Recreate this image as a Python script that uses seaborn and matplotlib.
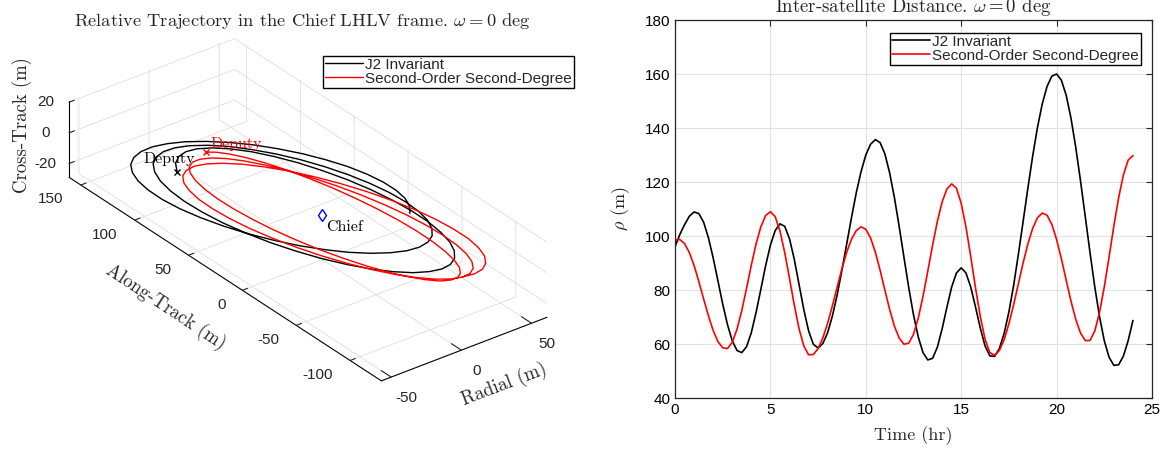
import numpy as np
import pandas as pd
import matplotlib
matplotlib.use("Agg")
import matplotlib.pyplot as plt
from matplotlib.lines import Line2D
from mpl_toolkits.mplot3d import proj3d
import seaborn as sns

# ------------------------------------------------------------------ data
series_names = ["J2 Invariant", "Second-Order Second-Degree"]
series_colors = ["black", "red"]

time_hr = np.arange(97) * 0.25  # sample times, 0 .. 24 hr

rho_j2 = [96.0, 100.5, 104.2, 107.3, 108.9, 108.3, 105.1, 99.4, 91.9, 83.4,
          74.8, 67.2, 61.2, 57.6, 56.8, 59.0, 64.2, 71.7, 80.3, 89.0,
          96.6, 102.0, 104.5, 103.6, 99.0, 91.4, 82.1, 72.8, 64.9, 59.9,
          58.5, 60.2, 64.2, 70.4, 78.2, 87.4, 97.1, 106.8, 116.0, 123.8,
          130.0, 134.0, 135.7, 134.6, 130.4, 123.4, 114.2, 103.5, 92.1, 80.9,
          70.8, 62.6, 56.8, 54.1, 54.7, 58.8, 65.6, 73.6, 81.1, 86.3,
          88.2, 86.3, 81.1, 73.7, 65.9, 59.3, 55.6, 55.4, 58.3, 63.9,
          71.9, 81.8, 93.4, 105.6, 118.0, 129.8, 140.3, 149.0, 155.4, 159.2,
          160.0, 157.7, 152.2, 143.8, 133.0, 120.6, 107.3, 93.9, 81.2, 70.1,
          61.2, 55.1, 52.1, 52.3, 55.5, 61.2, 68.7]

rho_sosd = [98.5, 98.7, 97.2, 93.9, 89.1, 83.1, 76.7, 70.5, 65.0, 60.9,
            58.6, 58.3, 60.6, 65.5, 72.4, 80.6, 89.2, 97.1, 103.4, 107.6,
            109.0, 107.2, 101.9, 93.9, 84.3, 74.5, 65.7, 59.3, 56.0, 56.1,
            58.3, 62.3, 67.7, 74.2, 81.1, 87.9, 94.0, 98.8, 102.0, 103.4,
            102.5, 99.3, 94.0, 87.3, 79.9, 72.8, 66.6, 62.2, 59.9, 60.3,
            63.6, 69.6, 77.7, 87.0, 96.6, 105.4, 112.6, 117.4, 119.3, 117.7,
            112.1, 103.3, 92.4, 80.8, 70.2, 61.8, 56.8, 55.8, 57.6, 61.6,
            67.5, 74.6, 82.4, 90.2, 97.2, 102.9, 106.8, 108.5, 107.7, 104.3,
            98.7, 91.6, 83.7, 76.0, 69.2, 64.1, 61.3, 61.3, 64.8, 71.7,
            81.2, 92.2, 103.7, 114.1, 122.6, 128.1, 129.8]

# relative trajectory, J2 invariant (radial, along-track, cross-track) [m]
j2_radial = [-36.3, -28.3, -19.3, -9.8, 0.0, 9.8, 19.3, 28.3, 36.3, 43.3,
             48.9, 53.1, 55.6, 56.5, 55.6, 53.1, 48.9, 43.3, 36.3, 28.3,
             19.3, 9.8, 0.0, -9.8, -19.3, -28.3, -36.3, -43.3, -48.9, -53.1,
             -55.6, -56.5, -55.6, -53.1, -48.9, -43.3, -36.3, -28.3, -19.3, -9.8,
             0.0, 9.8, 19.3, 28.3, 36.3, 43.3, 48.9, 53.1, 55.6, 56.5,
             55.6, 53.1, 48.9, 43.3, 36.3, 28.3, 19.3, 9.8, 0.0, -9.8,
             -19.3, -28.3, -36.3, -43.3, -48.9, -53.1, -55.6, -56.5, -55.6, -53.1,
             -48.9, -43.3, -36.3, -28.3, -19.3, -9.8, 0.0, 9.8, 19.3, 28.3,
             36.3, 43.3, 48.9, 53.1, 55.6, 56.5, 55.6, 53.1, 48.9, 43.3,
             36.3, 28.3]
j2_along = [87.6, 99.5, 108.4, 114.1, 116.4, 115.2, 110.7, 103.0, 92.2, 78.9,
            63.3, 46.1, 27.6, 8.6, -10.5, -28.9, -46.2, -61.8, -75.1, -85.8,
            -93.6, -98.1, -99.2, -96.9, -91.3, -82.4, -70.5, -56.0, -39.3, -20.8,
            -1.2, 19.0, 39.2, 58.8, 77.2, 93.9, 108.4, 120.3, 129.2, 134.9,
            137.2, 136.0, 131.5, 123.8, 113.0, 99.7, 84.1, 66.9, 48.4, 29.4,
            10.3, -8.1, -25.4, -41.0, -54.3, -65.0, -72.8, -77.3, -78.4, -76.1,
            -70.5, -61.6, -49.7, -35.2, -18.5, -0.1, 19.6, 39.8, 60.0, 79.6,
            98.0, 114.7, 129.2, 141.1, 150.0, 155.7, 158.0, 156.8, 152.3, 144.5,
            133.8, 120.5, 104.9, 87.6, 69.2, 50.2, 31.1, 12.7, -4.6, -20.2,
            -33.5, -44.3]
j2_cross = [1.1, -1.8, -4.7, -7.4, -10.0, -12.3, -14.2, -15.7, -16.7, -17.2,
            -17.2, -16.6, -15.5, -14.0, -12.0, -9.7, -7.2, -4.4, -1.6, 1.2,
            3.9, 6.4, 8.6, 10.3, 11.7, 12.5, 12.8, 12.5, 11.7, 10.3,
            8.5, 6.2, 3.6, 0.7, -2.4, -5.6, -8.7, -11.7, -14.5, -16.9,
            -18.9, -20.4, -21.4, -21.8, -21.7, -20.9, -19.5, -17.7, -15.3, -12.6,
            -9.5, -6.3, -3.0, 0.4, 3.5, 6.4, 9.0, 11.1, 12.7, 13.8,
            14.2, 13.9, 13.0, 11.4, 9.3, 6.6, 3.5, 0.1, -3.7, -7.5,
            -11.3, -15.0, -18.5, -21.6, -24.3, -26.4, -27.8, -28.6, -28.6, -28.0,
            -26.6, -24.5, -21.9, -18.7, -15.1, -11.1, -7.0, -2.9, 1.2, 5.1,
            8.6, 11.6]

# relative trajectory, second-order second-degree [m]
so_radial = [-8.8, 0.0, 8.8, 17.4, 25.5, 32.8, 39.2, 44.4, 48.3, 50.7,
             51.6, 50.9, 48.6, 44.9, 39.8, 33.5, 26.1, 17.9, 9.1, 0.0,
             -9.1, -18.0, -26.4, -34.0, -40.6, -46.0, -50.0, -52.5, -53.4, -52.7,
             -50.4, -46.5, -41.2, -34.7, -27.0, -18.5, -9.4, 0.0, 9.5, 18.7,
             27.3, 35.2, 42.0, 47.6, 51.8, 54.3, 55.3, 54.5, 52.1, 48.1,
             42.7, 35.9, 28.0, 19.2, 9.7, 0.0, -9.8, -19.3, -28.3, -36.4,
             -43.5, -49.2, -53.5, -56.2, -57.2, -56.4, -53.9, -49.8, -44.1, -37.1,
             -28.9, -19.8, -10.1, 0.0, 10.1, 19.9, 29.2, 37.6, 44.9, 50.8,
             55.3, 58.0, 59.0, 58.2, 55.6, 51.4, 45.5, 38.3, 29.8, 20.4,
             10.4, 0.0]
so_along = [97.0, 98.7, 97.3, 92.8, 85.4, 75.3, 62.8, 48.2, 32.0, 14.7,
            -3.3, -21.3, -38.9, -55.4, -70.4, -83.5, -94.1, -102.1, -107.1, -109.0,
            -107.7, -103.2, -95.7, -85.4, -72.5, -57.6, -41.0, -23.1, -4.7, 13.8,
            31.8, 48.8, 64.2, 77.5, 88.4, 96.5, 101.5, 103.3, 101.8, 97.0,
            89.0, 78.2, 64.7, 49.1, 31.7, 13.1, -6.1, -25.5, -44.3, -62.0,
            -78.1, -92.0, -103.5, -112.0, -117.3, -119.3, -117.9, -113.1, -105.0, -93.9,
            -80.2, -64.2, -46.4, -27.3, -7.6, 12.2, 31.5, 49.7, 66.1, 80.4,
            92.0, 100.6, 106.0, 107.9, 106.2, 101.1, 92.6, 81.0, 66.6, 49.9,
            31.4, 11.5, -9.0, -29.6, -49.7, -68.6, -85.7, -100.6, -112.8, -121.8,
            -127.5, -129.6]
so_cross = [-0.2, -4.1, -7.8, -11.2, -14.2, -16.7, -18.7, -20.0, -20.7, -20.6,
            -19.9, -18.5, -16.5, -14.0, -11.0, -7.6, -4.0, -0.3, 3.5, 7.0,
            10.4, 13.4, 15.9, 17.9, 19.3, 20.0, 20.1, 19.4, 18.2, 16.3,
            13.9, 11.0, 7.7, 4.2, 0.6, -3.1, -6.7, -10.0, -13.0, -15.6,
            -17.6, -19.1, -19.9, -20.0, -19.5, -18.3, -16.5, -14.1, -11.2, -8.0,
            -4.5, -0.8, 2.9, 6.5, 9.9, 13.0, 15.7, 17.8, 19.3, 20.2,
            20.5, 20.0, 18.9, 17.1, 14.7, 11.9, 8.6, 5.0, 1.3, -2.6,
            -6.3, -9.9, -13.1, -16.0, -18.3, -20.0, -21.1, -21.4, -21.1, -20.0,
            -18.3, -15.9, -13.0, -9.7, -6.0, -2.0, 2.0, 6.0, 9.8, 13.3,
            16.4, 19.0]

chief_pos = (0.0, 0.0, 0.0)

radial_ticks = [-50, 0, 50]
along_ticks = [-100, -50, 0, 50, 100, 150]
cross_ticks = [-20, 0, 20]
time_ticks = [0, 5, 10, 15, 20, 25]
rho_ticks = [40, 60, 80, 100, 120, 140, 160, 180]

# ------------------------------------------------------------------ style
sns.set_style("white")
plt.rcParams["font.family"] = ["Liberation Sans", "DejaVu Sans"]
plt.rcParams["mathtext.fontset"] = "cm"
plt.rcParams["axes.unicode_minus"] = False
plt.rcParams["grid.color"] = "#dedede"
plt.rcParams["grid.linewidth"] = 0.6
SERIF = ["cmr10", "DejaVu Serif"]

W_PX, H_PX = 1168, 455
fig = plt.figure(figsize=(W_PX / 100, H_PX / 100), dpi=100)
fig.patch.set_facecolor("white")

# ------------------------------------------------------------------ 3D panel
ax3 = fig.add_axes([0.0, 0.0, 0.4, 0.4 * W_PX / H_PX], projection="3d",
                   proj_type="ortho")
ax3.set_facecolor((1, 1, 1, 0))
ax3.plot(j2_radial, j2_along, j2_cross, color=series_colors[0], lw=1.0)
ax3.plot(so_radial, so_along, so_cross, color=series_colors[1], lw=1.0)
ax3.plot([j2_radial[0]], [j2_along[0]], [j2_cross[0]], ls="none", marker="x",
         ms=5, mew=1.0, color=series_colors[0])
ax3.plot([so_radial[0]], [so_along[0]], [so_cross[0]], ls="none", marker="x",
         ms=5, mew=1.0, color=series_colors[1])
ax3.plot([chief_pos[0]], [chief_pos[1]], [chief_pos[2]], ls="none", marker="d",
         ms=6, mfc="none", mec="blue", mew=1.0)
ax3.text(j2_radial[0], j2_along[0] + 7.5, j2_cross[0] + 5, "Deputy",
         ha="center", va="center", fontfamily=SERIF, fontsize=11.5, color="black")
ax3.text(so_radial[0] + 3.5, so_along[0], so_cross[0] + 3.9, "Deputy",
         ha="left", va="center", fontfamily=SERIF, fontsize=11.5, color="red")
ax3.text(chief_pos[0] + 2.8, chief_pos[1], chief_pos[2] - 8.5, "Chief",
         ha="left", va="center", fontfamily=SERIF, fontsize=11.5, color="black")

ax3.set_xlim(-57, 61)
ax3.set_ylim(-129, 161)
ax3.set_zlim(-29, 21)
ax3.set_box_aspect((118, 290, 50))
ax3.view_init(elev=30, azim=-127.5)
ax3.set_xticks(radial_ticks)
ax3.set_yticks(along_ticks)
ax3.set_zticks(cross_ticks)
ax3.xaxis.set_tick_params(labelsize=11, pad=2)
ax3.yaxis.set_tick_params(labelsize=11, pad=13)
ax3.zaxis.set_tick_params(labelsize=11, pad=2)
ax3.set_xlabel("Radial (m)", fontfamily=SERIF, fontsize=13.5, labelpad=5)
ax3.set_ylabel("")
ax3.set_zlabel("Cross-Track (m)", fontfamily=SERIF, fontsize=13.5, labelpad=-1)
for a in (ax3.xaxis, ax3.yaxis, ax3.zaxis):
    a.set_pane_color((1, 1, 1, 0))
    a.pane.set_edgecolor("#dcdcdc")
    a.line.set_color("black")
    a.line.set_linewidth(0.8)
    a.offsetText.set_visible(False)
    a._axinfo["grid"]["color"] = "#dedede"
    a._axinfo["grid"]["linewidth"] = 0.6
    a._axinfo["tick"]["inward_factor"] = 0.0
    a._axinfo["tick"]["outward_factor"] = 0.4
for t in (ax3.title, ax3._left_title, ax3._right_title):
    t.set_visible(False)

# along-track axis label, laid along the axis direction
fig.text(166 / W_PX, 1 - 307 / H_PX, "Along-Track (m)", rotation=-33.5,
         rotation_mode="anchor", ha="center", va="center",
         fontfamily=SERIF, fontsize=13.5)

fig.text(302 / W_PX, 1 - 21 / H_PX,
         r"Relative Trajectory in the Chief LHLV frame. $\omega = 0$ deg",
         ha="center", va="center", fontfamily=SERIF, fontsize=13.3)

leg_handles = [Line2D([], [], color=c, lw=1.0) for c in series_colors]
fig.legend(leg_handles, series_names, loc="upper right",
           bbox_to_anchor=(574 / W_PX, 1 - 56 / H_PX), fontsize=11,
           frameon=True, fancybox=False, edgecolor="black", framealpha=1,
           borderpad=0.12, labelspacing=0.0, handlelength=2.5,
           handletextpad=0.15, borderaxespad=0.0)

# fit the projected 3D box onto the reference box location
fig.canvas.draw()
xl, yl, zl = ax3.get_xlim(), ax3.get_ylim(), ax3.get_zlim()
cX, cY, cZ = [], [], []
for a in xl:
    for b in yl:
        for c in zl:
            cX.append(a); cY.append(b); cZ.append(c)
px, py, _ = proj3d.proj_transform(np.array(cX), np.array(cY), np.array(cZ),
                                  ax3.get_proj())
disp = ax3.transData.transform(np.column_stack([px, py]))
pos = ax3.get_position()
ox, oy, L = pos.x0 * W_PX, pos.y0 * H_PX, pos.width * W_PX
minx, maxx = disp[:, 0].min(), disp[:, 0].max()
miny, maxy = disp[:, 1].min(), disp[:, 1].max()
s = (547 - 69) / (maxx - minx)
fcx = ((minx + maxx) / 2 - ox) / L
fcy = ((miny + maxy) / 2 - oy) / L
L2 = L * s
tcx, tcy = (69 + 547) / 2, H_PX - (37 + 381) / 2
ox2, oy2 = tcx - L2 * fcx, tcy - L2 * fcy
ax3.set_position([ox2 / W_PX, oy2 / H_PX, L2 / W_PX, L2 / H_PX])
for tk in ax3.yaxis.get_major_ticks():
    tk.label1.set_horizontalalignment("right")
    tk.label1.set_verticalalignment("center")

# ------------------------------------------------------------------ 2D panel
ax2 = fig.add_axes([675 / W_PX, 57 / H_PX, 477 / W_PX, 378 / H_PX])
df = pd.DataFrame({
    "time": np.concatenate([time_hr, time_hr]),
    "rho": np.concatenate([rho_j2, rho_sosd]),
    "model": [series_names[0]] * len(time_hr) + [series_names[1]] * len(time_hr),
})
sns.lineplot(data=df, x="time", y="rho", hue="model",
             palette=dict(zip(series_names, series_colors)),
             linewidth=1.2, ax=ax2, legend=False)
ax2.set_xlim(0, 25)
ax2.set_ylim(40, 180)
ax2.set_xticks(time_ticks)
ax2.set_yticks(rho_ticks)
ax2.grid(True, color="#e2e2e2", linewidth=0.8)
ax2.tick_params(direction="in", length=4, width=0.8, labelsize=11,
                top=True, right=True, colors="#262626", labelcolor="black")
for sp in ax2.spines.values():
    sp.set_color("#262626")
    sp.set_linewidth(0.9)
ax2.xaxis.get_offset_text().set_visible(False)
ax2.yaxis.get_offset_text().set_visible(False)
ax2.set_xlabel("Time (hr)", fontfamily=SERIF, fontsize=13, labelpad=7)
ax2.set_ylabel(r"$\rho$ (m)", fontfamily=SERIF, fontsize=13, labelpad=9)
fig.text(913.5 / W_PX, 1 - 12 / H_PX, r"Inter-satellite Distance. $\omega = 0$ deg",
         ha="center", va="baseline", fontfamily=SERIF, fontsize=13.5)
ax2.legend([Line2D([], [], color=c, lw=1.2) for c in series_colors], series_names,
           loc="upper right", bbox_to_anchor=(1141 / W_PX, 1 - 33 / H_PX),
           bbox_transform=fig.transFigure, fontsize=11, frameon=True,
           fancybox=False, edgecolor="black", framealpha=1, borderpad=0.12,
           labelspacing=0.0, handlelength=2.5, handletextpad=0.15,
           borderaxespad=0.0)

fig.savefig("out.png", dpi=100, facecolor="white")
